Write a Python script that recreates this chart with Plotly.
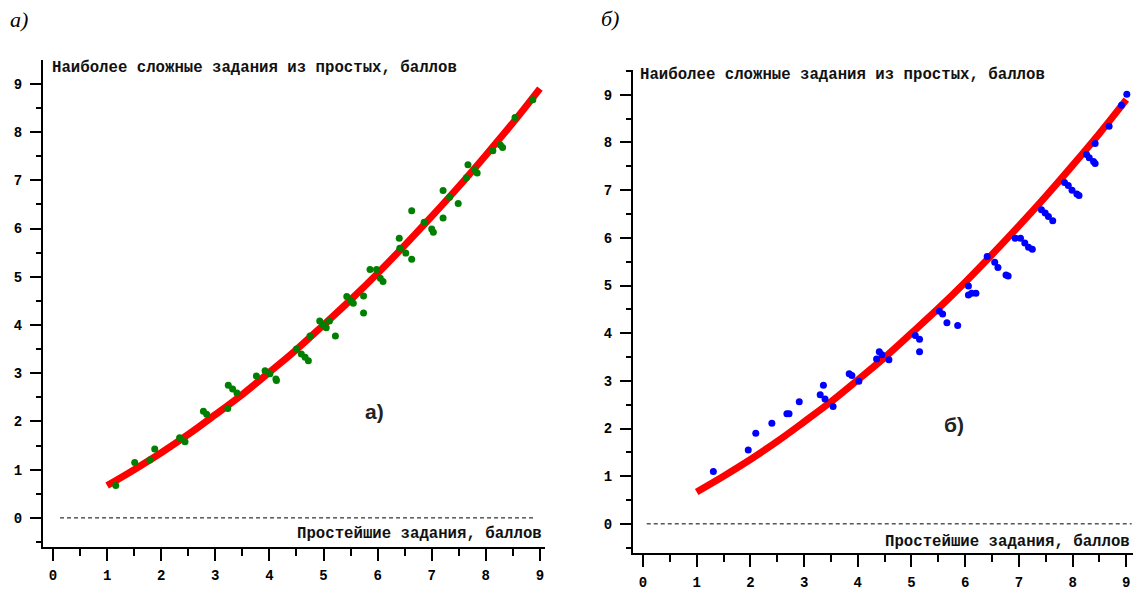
import plotly.graph_objects as go

W, H = 1133, 591

# ---- data ----
curve_x = [1.0, 1.5, 2.0, 2.5, 3.0, 3.5, 4.0, 4.5, 5.0, 5.5, 6.0, 6.5, 7.0, 7.5, 8.0, 8.5, 9.0]
curve_y = [0.67, 1.00, 1.35, 1.73, 2.14, 2.56, 3.02, 3.49, 4.00, 4.52, 5.07, 5.65, 6.25, 6.87, 7.52, 8.19, 8.90]

green_x = [1.16, 1.51, 1.79, 1.88, 2.34, 2.44, 2.78, 2.84, 3.23, 3.24, 3.32, 3.40, 3.76, 3.92, 4.01,
           4.12, 4.13, 4.50, 4.59, 4.66, 4.72, 4.75, 4.93, 4.99, 5.05, 5.11, 5.22, 5.43, 5.50, 5.55,
           5.74, 5.74, 5.86, 5.98, 6.05, 6.10, 6.40, 6.41, 6.52, 6.63, 6.63, 6.86, 7.00, 7.03, 7.21,
           7.21, 7.33, 7.49, 7.67, 7.80, 7.84, 7.64, 8.13, 8.27, 8.31, 8.54, 8.87]
green_y = [0.67, 1.15, 1.20, 1.43, 1.66, 1.58, 2.21, 2.15, 2.27, 2.75, 2.67, 2.59, 2.94, 3.05, 2.99,
           2.88, 2.85, 3.50, 3.40, 3.33, 3.26, 3.77, 4.08, 4.00, 3.94, 4.08, 3.77, 4.59, 4.52, 4.45,
           4.60, 4.25, 5.15, 5.15, 4.97, 4.90, 5.80, 5.59, 5.49, 5.36, 6.37, 6.13, 5.99, 5.92, 6.22,
           6.79, 6.65, 6.52, 7.32, 7.22, 7.15, 7.05, 7.61, 7.73, 7.68, 8.30, 8.67]

blue_x = [1.31, 1.96, 2.10, 2.40, 2.68, 2.72, 2.91, 3.30, 3.36, 3.39, 3.54, 3.84, 3.89, 4.02, 4.35,
          4.40, 4.45, 4.58, 5.07, 5.15, 5.15, 5.52, 5.58, 5.66, 5.86, 6.06, 6.12, 6.20, 6.06, 6.41,
          6.55, 6.61, 6.76, 6.80, 6.93, 7.03, 7.11, 7.18, 7.25, 7.42, 7.49, 7.55, 7.63, 7.85, 7.92,
          7.99, 8.08, 8.12, 8.26, 8.31, 8.39, 8.42, 8.42, 8.68, 8.91, 9.01]
blue_y = [1.10, 1.55, 1.90, 2.11, 2.31, 2.31, 2.56, 2.71, 2.91, 2.62, 2.46, 3.15, 3.11, 2.99, 3.46,
          3.61, 3.55, 3.44, 3.95, 3.87, 3.61, 4.46, 4.40, 4.22, 4.16, 4.99, 4.84, 4.84, 4.80, 5.61,
          5.49, 5.38, 5.22, 5.20, 5.99, 5.99, 5.89, 5.80, 5.76, 6.59, 6.52, 6.45, 6.36, 7.16, 7.10,
          7.00, 6.92, 6.89, 7.75, 7.68, 7.60, 7.56, 7.98, 8.34, 8.78, 9.01]

zero_a_x = [0.13, 8.9]
zero_b_x = [0.07, 9.1]
zero_y = [0, 0]

y_title = "Наиболее сложные задания из простых, баллов"
x_title = "Простейшие задания, баллов"
panel_labels = ["а)", "б)"]


def px(x):
    return x / W


def py(y):
    return 1 - y / H


fig = go.Figure()

# left panel
fig.add_trace(go.Scatter(x=zero_a_x, y=zero_y, mode="lines", xaxis="x", yaxis="y",
                         line=dict(color="black", width=1, dash="4px,3px")))
fig.add_trace(go.Scatter(x=curve_x, y=curve_y, mode="lines", xaxis="x", yaxis="y",
                         line=dict(color="#ff0000", width=7, shape="spline")))
fig.add_trace(go.Scatter(x=green_x, y=green_y, mode="markers", xaxis="x", yaxis="y",
                         marker=dict(color="#008000", size=7)))

# right panel
fig.add_trace(go.Scatter(x=zero_b_x, y=zero_y, mode="lines", xaxis="x2", yaxis="y2",
                         line=dict(color="black", width=1, dash="4px,3px")))
fig.add_trace(go.Scatter(x=curve_x, y=curve_y, mode="lines", xaxis="x2", yaxis="y2",
                         line=dict(color="#ff0000", width=7, shape="spline")))
fig.add_trace(go.Scatter(x=blue_x, y=blue_y, mode="markers", xaxis="x2", yaxis="y2",
                         marker=dict(color="#0000ff", size=7)))

tick_font = dict(family="Liberation Mono", size=14, color="black", weight="bold")


def xaxis(domain, rng, anchor):
    return dict(domain=domain, range=rng, anchor=anchor, showgrid=False, zeroline=False,
                showline=True, linecolor="black", linewidth=2,
                ticks="outside", ticklen=12, tickwidth=2, tickcolor="black",
                tick0=0, dtick=1, tickfont=tick_font, ticklabelstandoff=3,
                minor=dict(ticks="outside", ticklen=7, tickwidth=1.5, tickcolor="black",
                           tick0=0, dtick=0.5, showgrid=False))


def yaxis(domain, rng, anchor):
    return dict(domain=domain, range=rng, anchor=anchor, showgrid=False, zeroline=False,
                showline=True, linecolor="black", linewidth=2,
                ticks="outside", ticklen=11, tickwidth=2, tickcolor="black",
                tick0=0, dtick=1, tickfont=tick_font, ticklabelstandoff=5,
                minor=dict(ticks="outside", ticklen=5, tickwidth=1.5, tickcolor="black",
                           tick0=0, dtick=0.5, showgrid=False))


title_font = dict(family="Liberation Mono", size=15.7, color="#111111", weight="bold")

fig.update_layout(
    width=W, height=H,
    margin=dict(l=0, r=0, t=0, b=0),
    paper_bgcolor="white", plot_bgcolor="white",
    showlegend=False,
    xaxis=xaxis([px(43), px(545)], [-0.185, 9.094], "y"),
    yaxis=yaxis([py(554), py(61)], [-0.593, 9.49], "x"),
    xaxis2=xaxis([px(633), 1.0], [-0.186, 9.125], "y2"),
    yaxis2=yaxis([py(561), py(71)], [-0.62, 9.52], "x2"),
    annotations=[
        dict(text=panel_labels[0], xref="paper", yref="paper", x=px(8), y=py(20),
             xanchor="left", yanchor="middle", showarrow=False,
             font=dict(family="Liberation Serif", size=22, style="italic", color="black")),
        dict(text=panel_labels[1], xref="paper", yref="paper", x=px(599), y=py(19),
             xanchor="left", yanchor="middle", showarrow=False,
             font=dict(family="Liberation Serif", size=22, style="italic", color="black")),
        dict(text=y_title, xref="paper", yref="paper", x=px(50), y=py(69),
             xanchor="left", yanchor="middle", showarrow=False, font=title_font),
        dict(text=y_title, xref="paper", yref="paper", x=px(638), y=py(76),
             xanchor="left", yanchor="middle", showarrow=False, font=title_font),
        dict(text=x_title, xref="paper", yref="paper", x=px(544), y=py(541),
             xanchor="right", yanchor="middle", showarrow=False, font=title_font),
        dict(text=x_title, xref="paper", yref="paper", x=px(1132), y=py(549),
             xanchor="right", yanchor="middle", showarrow=False, font=title_font),
        dict(text=panel_labels[0], xref="x", yref="y", x=5.95, y=2.2, showarrow=False,
             font=dict(family="Liberation Sans", size=21, weight="bold", color="#222222")),
        dict(text=panel_labels[1], xref="x2", yref="y2", x=5.8, y=2.09, showarrow=False,
             font=dict(family="Liberation Sans", size=21, weight="bold", color="#222222")),
    ],
)

fig.write_html(
    "out.html",
    config={"displayModeBar": False},
    post_script="document.body.style.margin='0';document.body.style.overflow='hidden';",
)
